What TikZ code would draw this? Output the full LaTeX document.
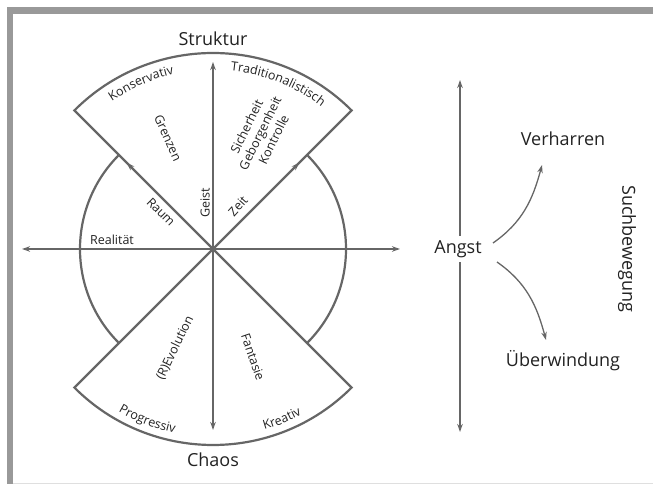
\documentclass[tikz,border=0pt]{standalone}
\usepackage{fontspec}
\setmainfont{Open Sans}
\usetikzlibrary{arrows.meta,decorations.text}
\definecolor{framegray}{HTML}{999999}
\definecolor{linegray}{HTML}{666666}
\definecolor{textgray}{HTML}{222222}
\newcommand\bigfnt{\fontsize{18}{20}\selectfont}
\newcommand\smfnt{\fontsize{12.5}{15}\selectfont}
\begin{document}
\begin{tikzpicture}[x=1pt,y=1pt,
  sectorline/.style={draw=linegray, line width=2.2pt, line join=miter},
  axis/.style={draw=linegray, line width=1.4pt},
  tip/.style={-{Stealth[length=8pt,width=5.5pt]}},
  tips/.style={{Stealth[length=8pt,width=5.5pt]}-{Stealth[length=8pt,width=5.5pt]}},
  bigtext/.style={font=\bigfnt, text=textgray, inner sep=1pt},
  smtext/.style={font=\smfnt, text=textgray, inner sep=1pt},
  arctext/.style={decorate, decoration={text along path, text align=center, text color=textgray}}
]
\useasboundingbox (0,0) rectangle (653,484);
% frame
\fill[framegray] (7,470) rectangle (653,477);
\fill[framegray] (7,0) rectangle (13,477);
\draw[gray!25, line width=0.8pt] (13,0.5) -- (653,0.5);

\coordinate (C) at (213,235);
\path (C) ++(135:196) coordinate (TL);
\path (C) ++(45:196) coordinate (TR);
\path (C) ++(225:196) coordinate (BL);
\path (C) ++(315:196) coordinate (BR);
\path (C) ++(135:122) coordinate (D1);
\path (C) ++(45:122) coordinate (D2);

% circle side arcs
\draw[sectorline] (C) ++(135:133) arc[start angle=135, end angle=225, radius=133];
\draw[sectorline] (C) ++(-45:133) arc[start angle=-45, end angle=45, radius=133];
% sectors
\draw[sectorline] (C) -- (TL) arc[start angle=135, end angle=45, radius=196] -- cycle;
\draw[sectorline] (C) -- (BL) arc[start angle=225, end angle=315, radius=196] -- cycle;

% axes
\coordinate (Vt) at (213,422);
\coordinate (Vb) at (213,54);
\coordinate (Hl) at (22,235);
\coordinate (Hr) at (400,235);
\draw[axis, tips] (Vb) -- (Vt);
\draw[axis, tips] (Hl) -- (Hr);
\draw[axis, tip] (C) -- (D1);
\draw[axis, tip] (C) -- (D2);

% main labels
\node[bigtext] (struktur) at (213,445) {Struktur};
\node[bigtext] (chaos) at (213,24) {Chaos};

% arc labels
\path[arctext, decoration={text={|\smfnt|Konservativ}}]
  (C) ++(127:179) arc[start angle=127, end angle=100, radius=179];
\path[arctext, decoration={text={|\smfnt|Traditionalistisch}}]
  (C) ++(90:179) arc[start angle=90, end angle=47, radius=179];
\path[arctext, decoration={text={|\smfnt|Progressiv}}]
  (C) ++(236:188) arc[start angle=236, end angle=262, radius=188];
\path[arctext, decoration={text={|\smfnt|Kreativ}}]
  (C) ++(280:188) arc[start angle=280, end angle=304, radius=188];

% inner labels
\node[smtext] (realitaet) at (112,244) {Realität};
\node[smtext, rotate=90] (geist) at (205,281) {Geist};
\node[smtext, rotate=-45] (raum) at (161,272) {Raum};
\node[smtext, rotate=48] (zeit) at (238,278) {Zeit};
\node[smtext, rotate=-66] (grenzen) at (168,346) {Grenzen};
\node[smtext, rotate=64, align=center] (sicher) at (260,351) {Sicherheit\\Geborgenheit\\Kontrolle};
\node[smtext, rotate=64] (evolution) at (175,136) {(R)Evolution};
\node[smtext, rotate=-71] (fantasie) at (253,127) {Fantasie};

% right part
\coordinate (At) at (460,404);
\coordinate (Ab) at (460,52);
\draw[axis, tips] (Ab) -- (At);
\node[bigtext, fill=white, inner sep=4pt] (angst) at (458,235) {Angst};
\node[bigtext] (verharren) at (563,345) {Verharren};
\node[bigtext] (ueber) at (563,123) {Überwindung};
\node[bigtext, rotate=-90] (such) at (627,235) {Suchbewegung};
\coordinate (v1) at (493,241);
\coordinate (v2) at (542,319);
\coordinate (u1) at (497,222);
\coordinate (u2) at (546,144);
\draw[draw=linegray, line width=1.3pt, tip] (v1) to[out=35, in=-105] (v2);
\draw[draw=linegray, line width=1.3pt, tip] (u1) to[out=-35, in=105] (u2);
\end{tikzpicture}
\end{document}
